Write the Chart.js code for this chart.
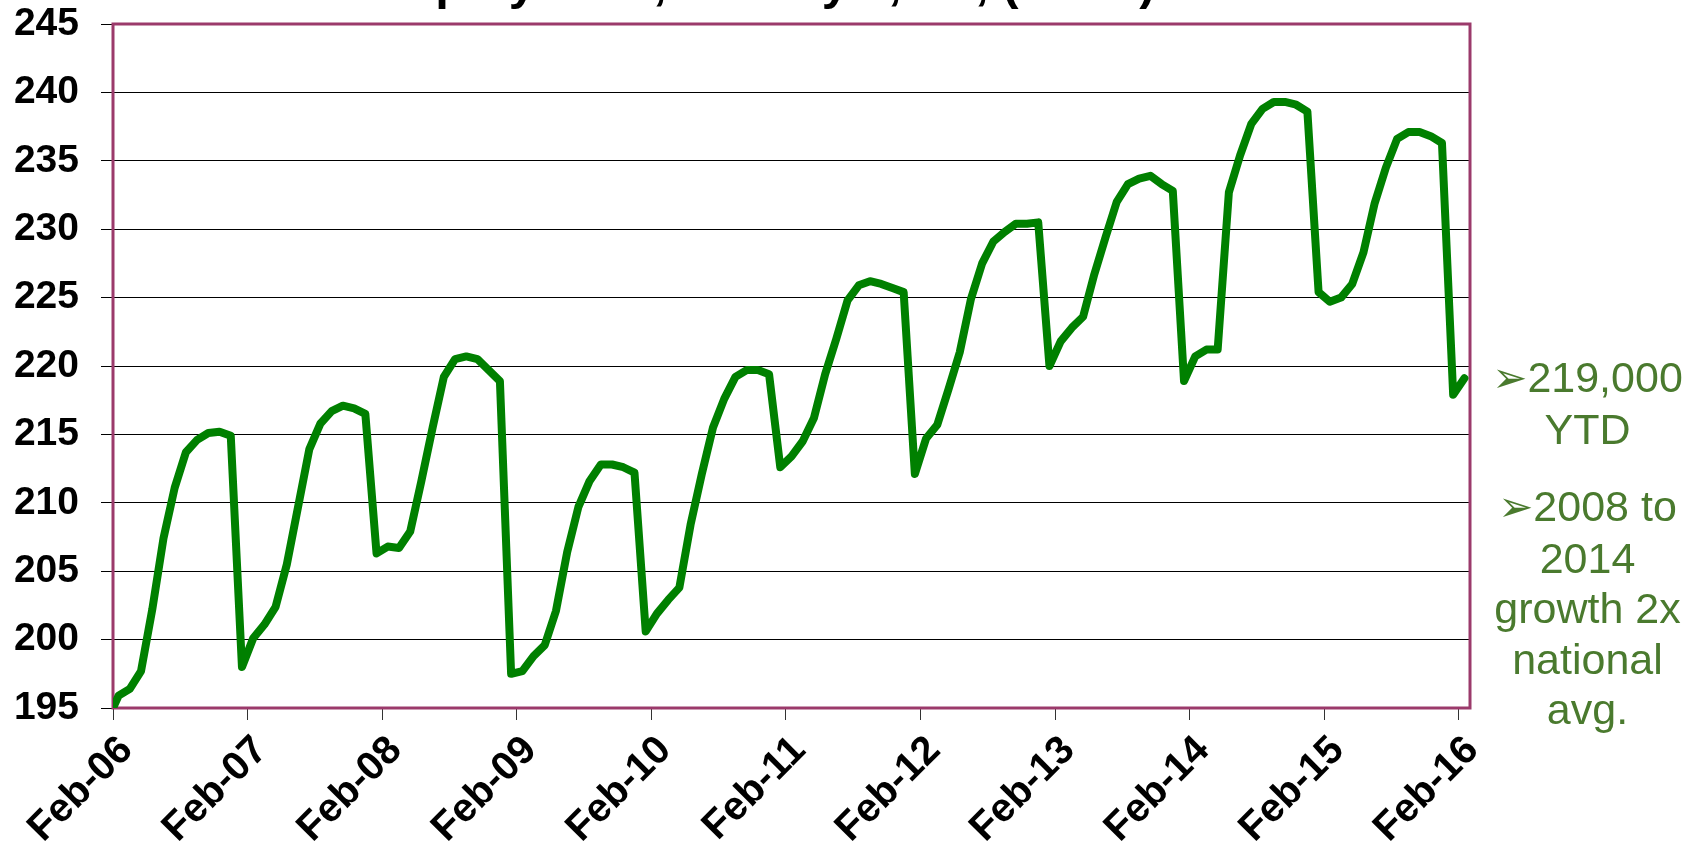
<!DOCTYPE html>
<html>
<head>
<meta charset="utf-8">
<script src="https://cdn.jsdelivr.net/npm/chart.js@4.4.1/dist/chart.umd.min.js"></script>
<style>
  html, body { margin: 0; padding: 0; background: #fff; overflow: hidden; }
  #wrap { position: relative; width: 1695px; height: 851px; }
  #chart { position: absolute; left: 0; top: 0; }
  #title {
    position: absolute; left: 359px; top: -42px; white-space: nowrap;
    font: bold 49px/49px "Liberation Sans", Arial, sans-serif; color: #000;
  }
  #notes {
    position: absolute; left: 1480px; top: 352px; width: 215px;
    text-align: center; color: #4a7a2e;
    font: 43px/50.5px "Liberation Sans", Arial, sans-serif;
  }
  #notes p { margin: 0 0 27px 0; }
  #notes .arrow { font-family: "DejaVu Sans", sans-serif; font-size: 42px; }
</style>
</head>
<body>
<div id="wrap">
  <canvas id="chart" width="1695" height="851"></canvas>
  <div id="title">Employment, County's, UT, (000's)</div>
  <div id="notes">
    <p><span class="arrow">➢</span>219,000<br>YTD</p>
    <p><span class="arrow">➢</span>2008 to<br>2014<br>growth 2x<br>national<br>avg.</p>
  </div>
</div>
<script>
const monthNames = ["Jan", "Feb", "Mar", "Apr", "May", "Jun", "Jul", "Aug", "Sep", "Oct", "Nov", "Dec"];
const years = ["06", "07", "08", "09", "10", "11", "12", "13", "14", "15", "16"];
const yearTicks = ["Feb-06", "Feb-07", "Feb-08", "Feb-09", "Feb-10", "Feb-11", "Feb-12", "Feb-13", "Feb-14", "Feb-15", "Feb-16"];

// monthly, Jan-06 .. Feb-16 (000's)
const employment = [
  194.1, 195.9, 196.4, 197.7, 202.2, 207.4, 211.1, 213.7, 214.6, 215.1, 215.2, 214.9,
  198.0, 200.1, 201.1, 202.4, 205.5, 209.7, 213.9, 215.8, 216.7, 217.1, 216.9, 216.5,
  206.3, 206.8, 206.7, 207.9, 211.6, 215.5, 219.2, 220.5, 220.7, 220.5, 219.7, 218.9,
  197.5, 197.7, 198.8, 199.6, 202.1, 206.4, 209.7, 211.6, 212.8, 212.8, 212.6, 212.2,
  200.6, 201.9, 202.9, 203.8, 208.4, 212.1, 215.5, 217.6, 219.2, 219.7, 219.7, 219.4,
  212.6, 213.4, 214.5, 216.2, 219.4, 222.0, 224.8, 225.9, 226.2, 226.0, 225.7, 225.4,
  212.1, 214.7, 215.7, 218.3, 221.0, 224.9, 227.5, 229.1, 229.8, 230.4, 230.4, 230.5,
  220.0, 221.8, 222.8, 223.6, 226.7, 229.4, 232.0, 233.3, 233.7, 233.9, 233.3, 232.8,
  218.9, 220.7, 221.2, 221.2, 232.7, 235.4, 237.7, 238.8, 239.3, 239.3, 239.1, 238.6,
  225.4, 224.7, 225.0, 226.0, 228.3, 231.9, 234.5, 236.6, 237.1, 237.1, 236.8, 236.3,
  217.9, 219.1
];

const labels = [];
for (const yr of years) {
  for (const m of monthNames) {
    if (labels.length < employment.length) labels.push(m + "-" + yr);
  }
}

const fontFamily = '"Liberation Sans", Arial, sans-serif';

// maroon frame around the plot area
const plotFrame = {
  id: "plotFrame",
  beforeDatasetsDraw(chart) {
    const { ctx, chartArea: a } = chart;
    ctx.save();
    ctx.strokeStyle = "#9b3a6b";
    ctx.lineWidth = 3;
    ctx.strokeRect(a.left, a.top, a.right - a.left, a.bottom - a.top);
    ctx.restore();
  }
};

const chart = new Chart(document.getElementById("chart"), {
  type: "line",
  data: {
    labels: labels,
    datasets: [{
      data: employment,
      borderColor: "#008000",
      borderWidth: 8,
      pointRadius: 0,
      tension: 0,
      borderJoinStyle: "round",
      borderCapStyle: "round"
    }]
  },
  options: {
    responsive: false,
    animation: false,
    layout: { padding: { top: 24, right: 225, left: 0, bottom: 0 } },
    plugins: { legend: { display: false }, tooltip: { enabled: false } },
    scales: {
      x: {
        type: "category",
        min: "Feb-06",
        offset: true,
        afterFit: (scale) => { scale.height = 143; },
        grid: {
          offset: true,
          drawOnChartArea: false,
          tickLength: 12,
          color: (ctx) => (ctx.tick && ctx.tick.label ? "#333" : "rgba(0,0,0,0)")
        },
        border: { display: true, color: "#5a1f3d", width: 2 },
        ticks: {
          autoSkip: false,
          maxRotation: 45,
          minRotation: 45,
          padding: 7,
          labelOffset: 8,
          color: "#000",
          font: { family: fontFamily, size: 40, weight: "bold" },
          callback: function (value) {
            const lab = this.getLabelForValue(value);
            return yearTicks.includes(lab) ? lab : "";
          }
        }
      },
      y: {
        min: 195,
        max: 245,
        afterFit: (scale) => {
          scale.width = 113;
          scale.paddingTop = 0;
          scale.paddingBottom = 0;
        },
        grid: { color: "#000", lineWidth: 1, tickLength: 12 },
        border: { display: true, color: "#5a1f3d", width: 2 },
        ticks: {
          stepSize: 5,
          padding: 22,
          color: "#000",
          font: { family: fontFamily, size: 39, weight: "bold" }
        }
      }
    }
  },
  plugins: [plotFrame]
});
</script>
</body>
</html>
